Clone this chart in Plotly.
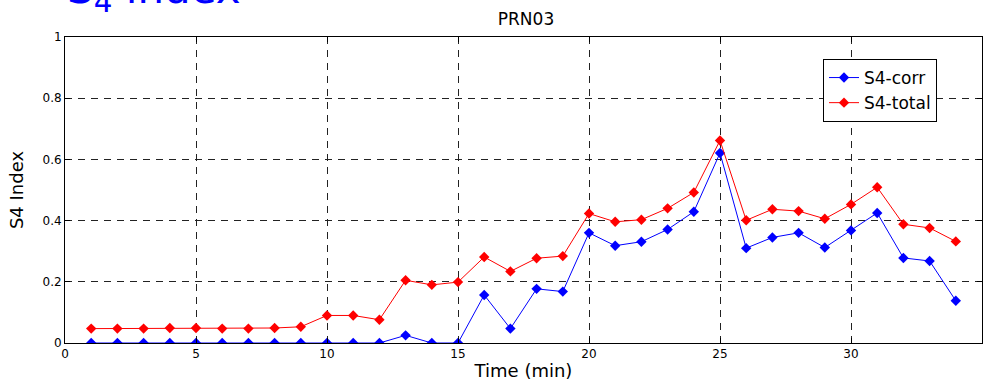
import plotly.graph_objects as go

time_min = list(range(1, 35))
s4_corr = [0, 0, 0, 0, 0, 0, 0, 0, 0, 0, 0, 0, 0.025, 0, 0,
           0.157, 0.047, 0.177, 0.168, 0.36, 0.318, 0.331, 0.371, 0.429, 0.621,
           0.31, 0.345, 0.36, 0.312, 0.368, 0.425, 0.278, 0.268, 0.138]
s4_total = [0.047, 0.047, 0.047, 0.049, 0.049, 0.047, 0.047, 0.049, 0.053, 0.09,
            0.09, 0.076, 0.205, 0.19, 0.199, 0.281, 0.234, 0.277, 0.284, 0.423,
            0.396, 0.403, 0.44, 0.492, 0.662, 0.401, 0.437, 0.431, 0.406, 0.453,
            0.509, 0.388, 0.376, 0.332]
x_ticks = [0, 5, 10, 15, 20, 25, 30, 35]
y_ticks = [0, 0.2, 0.4, 0.6, 0.8, 1]
y_tick_labels = ["0", "0.2", "0.4", "0.6", "0.8", "1"]

FONT = "DejaVu Sans"

fig = go.Figure()
fig.add_trace(go.Scatter(x=time_min, y=s4_corr, name="S4-corr", mode="lines+markers",
                         line=dict(color="#0000ff", width=1),
                         marker=dict(symbol="diamond", size=8, color="#0000ff")))
fig.add_trace(go.Scatter(x=time_min, y=s4_total, name="S4-total", mode="lines+markers",
                         line=dict(color="#ff0000", width=1),
                         marker=dict(symbol="diamond", size=8, color="#ff0000")))

axis_common = dict(showline=True, linecolor="black", linewidth=1, mirror="ticks",
                   ticks="inside", ticklen=5, tickcolor="black",
                   showgrid=True, gridcolor="#222222", gridwidth=1, griddash="7px,6px",
                   zeroline=False, tickfont=dict(family=FONT, size=12, color="black"))

fig.update_layout(
    width=986, height=383,
    margin=dict(l=65, r=4, t=37, b=40),
    paper_bgcolor="white", plot_bgcolor="white",
    font=dict(family=FONT, color="black"),
    title=dict(text="PRN03", x=526 / 986, xanchor="center", y=1 - 19 / 383, yanchor="middle",
               font=dict(family=FONT, size=17, color="black")),
    xaxis=dict(range=[0, 35], tickvals=x_ticks, ticktext=[str(v) for v in x_ticks],
               title=dict(text="Time (min)", font=dict(family=FONT, size=18), standoff=3),
               **axis_common),
    yaxis=dict(range=[0, 1], tickvals=y_ticks, ticktext=y_tick_labels,
               title=dict(text="S4 Index", font=dict(family=FONT, size=18), standoff=14),
               **axis_common),
    legend=dict(x=(823 - 65) / 917, y=1 - (59 - 37) / 306, xanchor="left", yanchor="top",
                bgcolor="white", bordercolor="black", borderwidth=1,
                font=dict(family=FONT, size=17, color="black")),
    showlegend=True,
)

fig.add_annotation(text="S<sub>4</sub> index", xref="paper", yref="paper",
                   x=0.0, y=1 + 16 / 306, xanchor="left", yanchor="bottom",
                   showarrow=False, font=dict(family=FONT, size=42, color="#0000ff"))

fig.write_html("out.html")
